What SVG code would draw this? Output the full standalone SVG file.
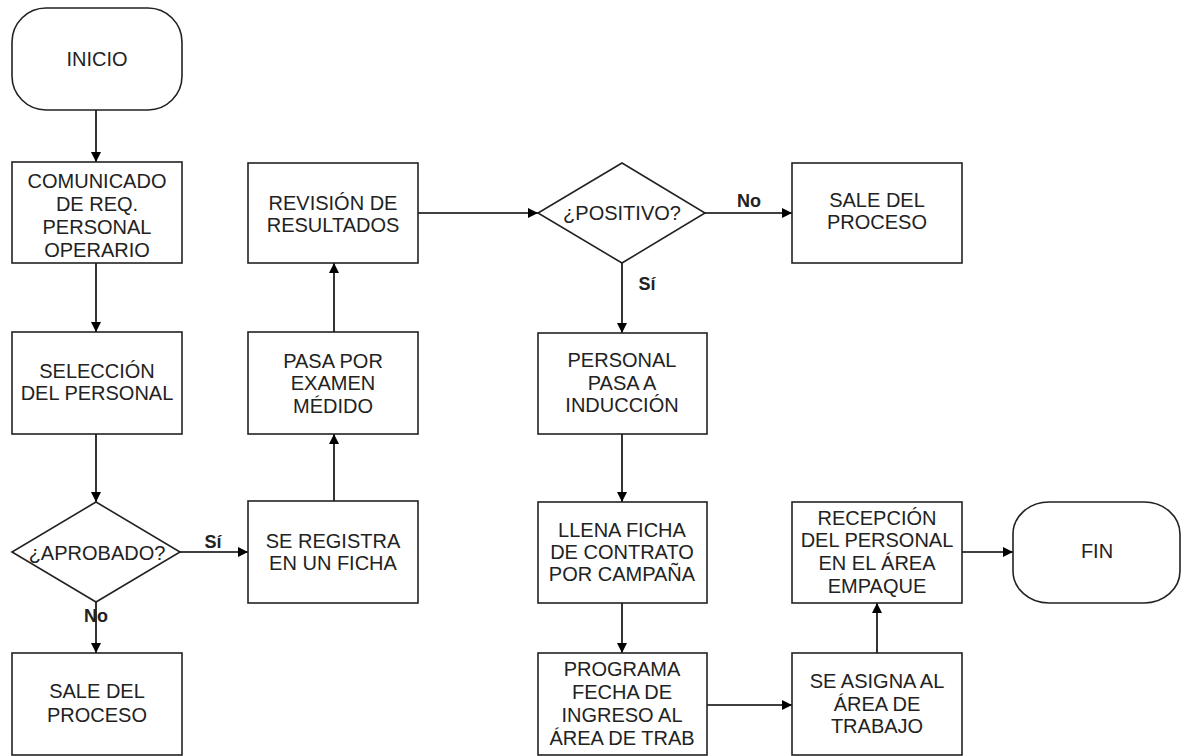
<svg xmlns="http://www.w3.org/2000/svg" width="1183" height="756" viewBox="0 0 1183 756">
<defs>
<marker id="ah" viewBox="0 0 10 10" refX="10" refY="5" markerWidth="10" markerHeight="10" markerUnits="userSpaceOnUse" orient="auto">
<path d="M0,0 L10,5 L0,10 z" fill="#000"/>
</marker>
<style>
.box{fill:#fff;stroke:#222;stroke-width:1.6}
.t{font-family:"Liberation Sans",Arial,sans-serif;font-size:20px;fill:#222;text-anchor:middle}
.lbl{font-family:"Liberation Sans",Arial,sans-serif;font-size:18px;font-weight:bold;fill:#222;text-anchor:middle}
.c{fill:none;stroke:#000;stroke-width:1.6;marker-end:url(#ah)}
</style>
</defs>
<rect width="1183" height="756" fill="#fff"/>
<g id="connectors">
<line class="c" x1="96" y1="110" x2="96" y2="162"/>
<line class="c" x1="96" y1="263" x2="96" y2="332"/>
<line class="c" x1="96" y1="434" x2="96" y2="502"/>
<line class="c" x1="96" y1="602" x2="96" y2="653"/>
<line class="c" x1="180" y1="552" x2="248" y2="552"/>
<line class="c" x1="334" y1="501" x2="334" y2="434"/>
<line class="c" x1="334" y1="332" x2="334" y2="263"/>
<line class="c" x1="418" y1="213" x2="538" y2="213"/>
<line class="c" x1="705" y1="213" x2="792" y2="213"/>
<line class="c" x1="622" y1="263" x2="622" y2="333"/>
<line class="c" x1="622" y1="434" x2="622" y2="502"/>
<line class="c" x1="622" y1="603" x2="622" y2="653"/>
<line class="c" x1="707" y1="705" x2="792" y2="705"/>
<line class="c" x1="877" y1="653" x2="877" y2="603"/>
<line class="c" x1="962" y1="552" x2="1013" y2="552"/>
<text class="lbl" x="213" y="548">Sí</text>
<text class="lbl" x="96" y="622">No</text>
<text class="lbl" x="749" y="207">No</text>
<text class="lbl" x="647" y="290">Sí</text>
</g>
<g id="inicio">
<rect class="box" x="12" y="8" width="170" height="102" rx="34" ry="34"/>
<text class="t" x="97" y="66">INICIO</text>
</g>
<g id="comunicado">
<rect class="box" x="12" y="162" width="170" height="101"/>
<text class="t" x="97" y="188">COMUNICADO</text>
<text class="t" x="97" y="211">DE REQ.</text>
<text class="t" x="97" y="234">PERSONAL</text>
<text class="t" x="97" y="257">OPERARIO</text>
</g>
<g id="seleccion">
<rect class="box" x="12" y="332" width="170" height="102"/>
<text class="t" x="97" y="378">SELECCIÓN</text>
<text class="t" x="97" y="400">DEL PERSONAL</text>
</g>
<g id="aprobado">
<polygon class="box" points="96,502 180,552 96,602 12,552"/>
<text class="t" x="97" y="560">¿APROBADO?</text>
</g>
<g id="sale1">
<rect class="box" x="12" y="653" width="170" height="102"/>
<text class="t" x="97" y="698">SALE DEL</text>
<text class="t" x="97" y="722">PROCESO</text>
</g>
<g id="registra">
<rect class="box" x="248" y="501" width="170" height="102"/>
<text class="t" x="333" y="548">SE REGISTRA</text>
<text class="t" x="333" y="570">EN UN FICHA</text>
</g>
<g id="examen">
<rect class="box" x="248" y="332" width="170" height="102"/>
<text class="t" x="333" y="368">PASA POR</text>
<text class="t" x="333" y="390">EXAMEN</text>
<text class="t" x="333" y="413">MÉDIDO</text>
</g>
<g id="revision">
<rect class="box" x="248" y="163" width="170" height="100"/>
<text class="t" x="333" y="210">REVISIÓN DE</text>
<text class="t" x="333" y="232">RESULTADOS</text>
</g>
<g id="positivo">
<polygon class="box" points="622,163 705,213 622,263 538,213"/>
<text class="t" x="622" y="220">¿POSITIVO?</text>
</g>
<g id="sale2">
<rect class="box" x="792" y="163" width="170" height="100"/>
<text class="t" x="877" y="207">SALE DEL</text>
<text class="t" x="877" y="229">PROCESO</text>
</g>
<g id="induccion">
<rect class="box" x="538" y="333" width="169" height="101"/>
<text class="t" x="622" y="367">PERSONAL</text>
<text class="t" x="622" y="390">PASA A</text>
<text class="t" x="622" y="412">INDUCCIÓN</text>
</g>
<g id="llena">
<rect class="box" x="538" y="502" width="169" height="101"/>
<text class="t" x="622" y="537">LLENA FICHA</text>
<text class="t" x="622" y="559">DE CONTRATO</text>
<text class="t" x="622" y="581">POR CAMPAÑA</text>
</g>
<g id="programa">
<rect class="box" x="538" y="653" width="169" height="102"/>
<text class="t" x="622" y="676">PROGRAMA</text>
<text class="t" x="622" y="699">FECHA DE</text>
<text class="t" x="622" y="722">INGRESO AL</text>
<text class="t" x="622" y="745">ÁREA DE TRAB</text>
</g>
<g id="asigna">
<rect class="box" x="792" y="653" width="170" height="102"/>
<text class="t" x="877" y="688">SE ASIGNA AL</text>
<text class="t" x="877" y="711">ÁREA DE</text>
<text class="t" x="877" y="733">TRABAJO</text>
</g>
<g id="recepcion">
<rect class="box" x="792" y="502" width="170" height="101"/>
<text class="t" x="877" y="525">RECEPCIÓN</text>
<text class="t" x="877" y="547">DEL PERSONAL</text>
<text class="t" x="877" y="570">EN EL ÁREA</text>
<text class="t" x="877" y="593">EMPAQUE</text>
</g>
<g id="fin">
<rect class="box" x="1013" y="502" width="167" height="101" rx="36" ry="32"/>
<text class="t" x="1097" y="558">FIN</text>
</g>
</svg>
